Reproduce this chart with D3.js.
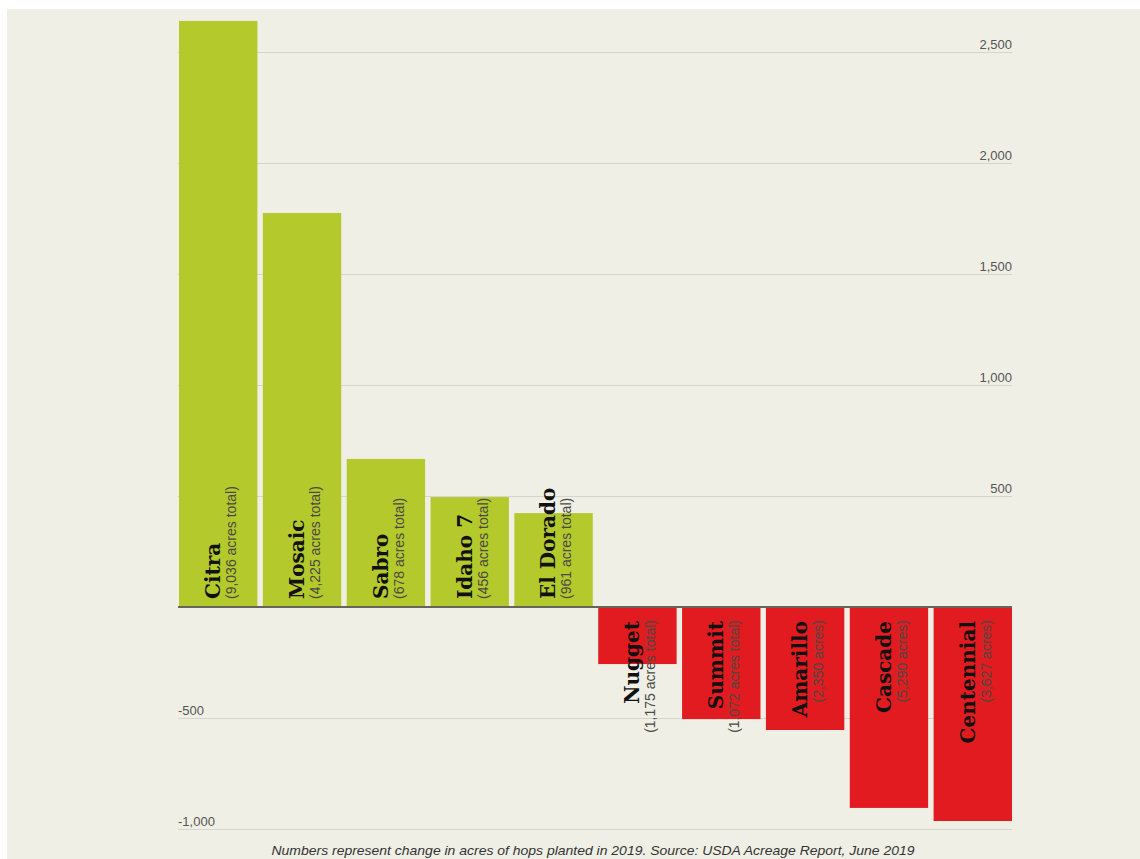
<!DOCTYPE html>
<html>
<head>
<meta charset="utf-8">
<script src="https://cdn.jsdelivr.net/npm/d3@7"></script>
<style>
  html, body { margin: 0; padding: 0; background: #ffffff; }
  svg { display: block; }
</style>
</head>
<body>
<svg id="chart" width="1140" height="859"></svg>
<script>
const categories = ["Citra", "Mosaic", "Sabro", "Idaho 7", "El Dorado", "Nugget", "Summit", "Amarillo", "Cascade", "Centennial"];
const changes = [2640, 1775, 667, 495, 423, -257, -505, -554, -905, -964];
const totals = ["(9,036 acres total)", "(4,225 acres total)", "(678 acres total)", "(456 acres total)", "(961 acres total)",
                "(1,175 acres total)", "(1,072 acres total)", "(2,350 acres)", "(5,290 acres)", "(3,627 acres)"];
const tickValues = [2500, 2000, 1500, 1000, 500, -500, -1000];
const tickLabels = ["2,500", "2,000", "1,500", "1,000", "500", "-500", "-1,000"];
const footnote = "Numbers represent change in acres of hops planted in 2019. Source: USDA Acreage Report, June 2019";

const data = categories.map((c, i) => ({ name: c, value: changes[i], total: totals[i] }));

const svg = d3.select("#chart");
// beige panel
svg.append("rect").attr("x", 7).attr("y", 9).attr("width", 1133).attr("height", 850).attr("fill", "#f0efe5");

const x = d3.scaleBand().domain(categories).range([179, 1012]).paddingInner(0.065).paddingOuter(0);
const y = d3.scaleLinear().domain([-1000, 2500]).range([829, 52]);

// gridlines + labels via axis
const axis = d3.axisRight(y)
  .tickValues(tickValues)
  .tickSize(-(1012 - 178))
  .tickFormat((d, i) => tickLabels[i]);

const g = svg.append("g").attr("transform", "translate(1012,0)").call(axis);
g.select(".domain").remove();
g.selectAll(".tick line").attr("stroke", "#d6d5cc").attr("stroke-width", 1);
g.selectAll(".tick text")
  .attr("font-family", "'Liberation Sans Narrow', 'Liberation Sans', sans-serif")
  .attr("font-size", 13)
  .attr("fill", "#555")
  .attr("dy", -4)
  .each(function(d) {
    const t = d3.select(this);
    if (d > 0) {
      t.attr("x", 0).attr("text-anchor", "end");
    } else {
      t.attr("x", -(1012 - 178)).attr("text-anchor", "start");
    }
  });

// bars
svg.append("g").selectAll("rect").data(data).join("rect")
  .attr("x", d => x(d.name))
  .attr("width", x.bandwidth())
  .attr("y", d => d.value >= 0 ? y(d.value) : y(0))
  .attr("height", d => Math.abs(y(d.value) - y(0)))
  .attr("fill", d => d.value >= 0 ? "#b4c92b" : "#e11b1f");

// zero line
svg.append("line")
  .attr("x1", 178).attr("x2", 1012)
  .attr("y1", y(0)).attr("y2", y(0))
  .attr("stroke", "#65665a").attr("stroke-width", 2);

// labels
const lab = svg.append("g").selectAll("g").data(data).join("g");
lab.append("text")
  .attr("transform", d => {
    const yy = d.value >= 0 ? y(0) - 8 : y(0) + 14;
    return `translate(${x(d.name) + 41},${yy}) rotate(-90)`;
  })
  .attr("text-anchor", d => d.value >= 0 ? "start" : "end")
  .attr("font-family", "'DejaVu Serif', serif")
  .attr("font-weight", "bold")
  .attr("font-size", 20)
  .attr("fill", "#111")
  .text(d => d.name);
lab.append("text")
  .attr("transform", d => {
    const yy = d.value >= 0 ? y(0) - 8 : y(0) + 13;
    return `translate(${x(d.name) + 57},${yy}) rotate(-90)`;
  })
  .attr("text-anchor", d => d.value >= 0 ? "start" : "end")
  .attr("font-family", "'Liberation Sans Narrow', 'Liberation Sans', sans-serif")
  .attr("font-size", 14)
  .attr("fill", "#4a4a44")
  .text(d => d.total);

// footnote
svg.append("text")
  .attr("x", 593).attr("y", 855)
  .attr("text-anchor", "middle")
  .attr("font-family", "'Liberation Sans Narrow', 'Liberation Sans', sans-serif")
  .attr("font-style", "italic")
  .attr("font-size", 13)
  .attr("fill", "#333")
  .attr("textLength", 643)
  .attr("lengthAdjust", "spacingAndGlyphs")
  .text(footnote);
</script>
</body>
</html>
